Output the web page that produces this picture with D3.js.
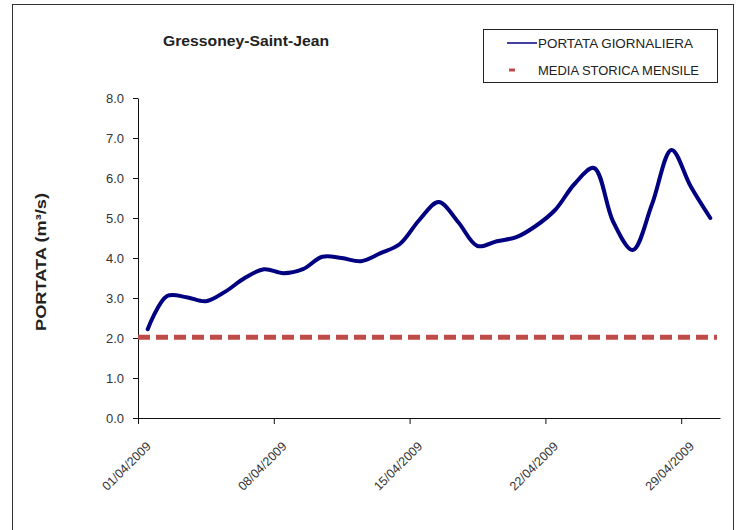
<!DOCTYPE html>
<html>
<head>
<meta charset="utf-8">
<script src="https://cdn.jsdelivr.net/npm/d3@7"></script>
<style>
  html, body { margin: 0; padding: 0; background: #fff; }
  svg { display: block; font-family: "Liberation Sans", Arial, sans-serif; }
</style>
</head>
<body>
<svg id="chart" width="742" height="530"></svg>
<script>
// Daily discharge, Gressoney-Saint-Jean, April 2009 (m³/s)
const stationName = "Gressoney-Saint-Jean";
const startDay = "2009-04-01";
const portataGiornaliera = [
  2.22, 3.05, 3.02, 2.92, 3.16, 3.50, 3.72, 3.62, 3.72, 4.03,
  4.00, 3.92, 4.12, 4.35, 4.95, 5.40, 4.90, 4.30, 4.42, 4.52,
  4.80, 5.20, 5.85, 6.25, 4.90, 4.20, 5.35, 6.70, 5.78, 5.00
];
// Long-term monthly mean for April
const mediaStoricaMensile = [2.02];
const yTicks = [0, 1, 2, 3, 4, 5, 6, 7, 8];
const xTickLabels = ["01/04/2009", "08/04/2009", "15/04/2009", "22/04/2009", "29/04/2009"];
const seriesNames = ["PORTATA GIORNALIERA", "MEDIA STORICA MENSILE"];
const yTitle = "PORTATA (m³/s)";

const svg = d3.select("#chart");
const parse = d3.timeParse("%d/%m/%Y");
const fmt = d3.timeFormat("%d/%m/%Y");
const day0 = d3.timeParse("%Y-%m-%d")(startDay);
const dayEnd = d3.timeDay.offset(day0, portataGiornaliera.length);

const plotL = 138, plotR = 720, plotT = 98, plotB = 418;

// outer frame
svg.append("rect")
  .attr("x", 12.5).attr("y", 4.5)
  .attr("width", 721).attr("height", 540)
  .attr("fill", "none").attr("stroke", "#333").attr("stroke-width", 1);

const x = d3.scaleTime().domain([day0, dayEnd]).range([plotL, plotR]);
const y = d3.scaleLinear().domain([0, 8]).range([plotB, plotT]);

// y axis
const yAxis = svg.append("g")
  .attr("transform", `translate(${plotL},0)`)
  .call(d3.axisLeft(y).tickValues(yTicks).tickSize(5).tickSizeOuter(0).tickFormat(d3.format(".1f")));
yAxis.selectAll("text").attr("font-size", 13).attr("fill", "#333")
  .attr("font-family", "'Liberation Sans', Arial, sans-serif").attr("x", -14);
yAxis.selectAll("line, path").attr("stroke", "#111");

// x axis
const xTickDates = xTickLabels.map(parse);
const xAxis = svg.append("g")
  .attr("transform", `translate(0,${plotB})`)
  .call(d3.axisBottom(x).tickValues(xTickDates).tickSize(6).tickSizeOuter(0).tickFormat(fmt));
xAxis.selectAll("line, path").attr("stroke", "#111");
xAxis.selectAll("text")
  .attr("font-size", 12.5).attr("fill", "#333")
  .attr("font-family", "'Liberation Sans', Arial, sans-serif")
  .attr("text-anchor", "end")
  .attr("dy", "0.35em")
  .attr("transform", "translate(10,26) rotate(-45)")
  .attr("x", 0).attr("y", 0);

// historical mean (dashed)
svg.append("line")
  .attr("x1", x(day0)).attr("x2", x(dayEnd) - 3)
  .attr("y1", y(mediaStoricaMensile[0])).attr("y2", y(mediaStoricaMensile[0]))
  .attr("stroke", "#bf4b48").attr("stroke-width", 5)
  .attr("stroke-dasharray", "12,6");

// daily discharge, plotted at the middle of each day
const pts = portataGiornaliera.map((v, i) => [x(d3.timeHour.offset(d3.timeDay.offset(day0, i), 12)), y(v)]);
svg.append("path")
  .attr("d", d3.line().curve(d3.curveCatmullRom.alpha(0.5))(pts))
  .attr("fill", "none").attr("stroke", "#000080").attr("stroke-width", 4)
  .attr("stroke-linejoin", "round").attr("stroke-linecap", "round");

// title
svg.append("text")
  .attr("x", 246).attr("y", 46)
  .attr("text-anchor", "middle")
  .attr("font-size", 15).attr("font-weight", "bold").attr("fill", "#222")
  .attr("textLength", 166).attr("lengthAdjust", "spacingAndGlyphs")
  .text(stationName);

// y-axis title
svg.append("text")
  .attr("transform", "translate(46,262) rotate(-90)")
  .attr("text-anchor", "middle")
  .attr("font-size", 15).attr("font-weight", "bold").attr("fill", "#222")
  .attr("textLength", 138).attr("lengthAdjust", "spacingAndGlyphs")
  .text(yTitle);

// legend
const lg = svg.append("g");
lg.append("rect").attr("x", 483.5).attr("y", 29.5).attr("width", 234).attr("height", 53)
  .attr("fill", "#fff").attr("stroke", "#222").attr("stroke-width", 1);
lg.append("line").attr("x1", 507).attr("x2", 537).attr("y1", 43).attr("y2", 43)
  .attr("stroke", "#000080").attr("stroke-width", 1.5);
lg.append("line").attr("x1", 509).attr("x2", 515).attr("y1", 70).attr("y2", 70)
  .attr("stroke", "#bf4b48").attr("stroke-width", 3);
lg.selectAll("text.item").data(seriesNames).enter().append("text")
  .attr("class", "item")
  .attr("x", 538).attr("y", (d, i) => 48 + i * 27)
  .attr("font-size", 13).attr("fill", "#222")
  .attr("textLength", (d, i) => i === 0 ? 155 : 161)
  .attr("lengthAdjust", "spacingAndGlyphs")
  .text(d => d);
</script>
</body>
</html>
